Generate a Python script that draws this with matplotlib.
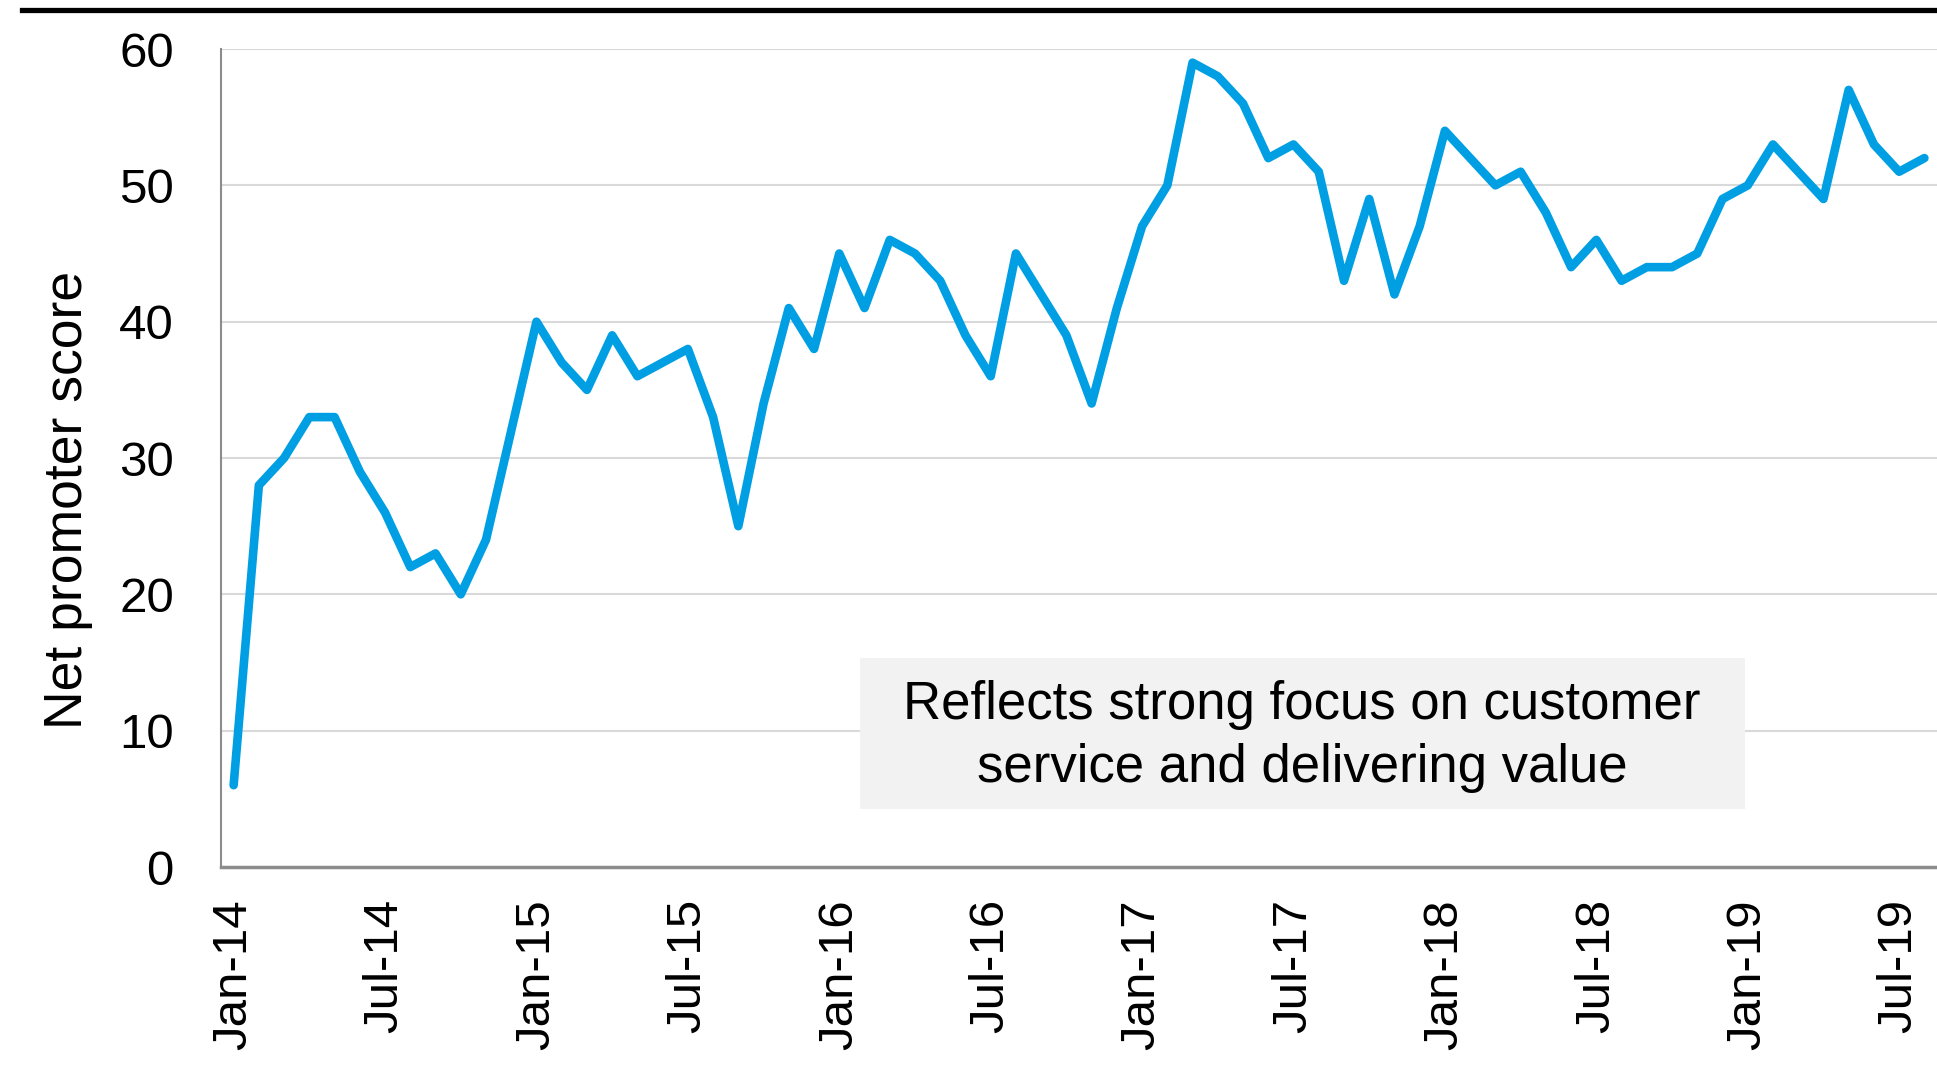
import numpy as np
import pandas as pd
from matplotlib import pyplot as plt
from matplotlib.lines import Line2D
from matplotlib.patches import Rectangle

plt.rcParams['font.family'] = ['Liberation Sans', 'DejaVu Sans']

# monthly net promoter score, Jan-14 .. Aug-19
months = pd.date_range('2014-01-01', '2019-08-01', freq='MS')
nps = [6, 28, 30, 33, 33, 29, 26, 22, 23, 20, 24, 32,
       40, 37, 35, 39, 36, 37, 38, 33, 25, 34, 41, 38,
       45, 41, 46, 45, 43, 39, 36, 45, 42, 39, 34, 41,
       47, 50, 59, 58, 56, 52, 53, 51, 43, 49, 42, 47,
       54, 52, 50, 51, 48, 44, 46, 43, 44, 44, 45, 49,
       50, 53, 51, 49, 57, 53, 51, 52]
y_ticks = [0, 10, 20, 30, 40, 50, 60]
note = 'Reflects strong focus on customer\nservice and delivering value'
y_label = 'Net promoter score'

df = pd.DataFrame({'month': months, 'nps': nps})
x = np.arange(len(df))
tick_idx = x[::6]
tick_labels = df['month'].dt.strftime('%b-%y').values[::6]

fig = plt.figure(figsize=(19.37, 10.68), dpi=100)
ax = fig.add_axes([0.1141, 0.1882, 0.8859, 0.7659])

ax.plot(x, df['nps'], color='#009FE3', linewidth=6.2, solid_joinstyle='round',
        solid_capstyle='round', zorder=3, clip_on=False)

ax.set_xlim(-0.5, len(df) - 0.5)
ax.set_ylim(0, 60)
ax.set_yticks(y_ticks)
ax.set_xticks(tick_idx)
ax.set_xticklabels(tick_labels, rotation=90)
ax.tick_params(axis='both', length=0, labelsize=35.5)
ax.tick_params(axis='x', pad=23)
ax.tick_params(axis='y', pad=34)
ax.grid(axis='y', color='#D9D9D9', linewidth=1.5)
ax.set_axisbelow(True)

for s in ['top', 'right']:
    ax.spines[s].set_visible(False)
ax.spines['left'].set_color('#8C8C8C')
ax.spines['left'].set_linewidth(1.5)
ax.spines['bottom'].set_color('#8C8C8C')
ax.spines['bottom'].set_linewidth(2.5)

# note box
ax.add_patch(Rectangle((0.3724, 0.0709), 0.5157, 0.1846, transform=ax.transAxes,
                       facecolor='#F2F2F2', edgecolor='none', zorder=2))
ax.text(0.630, 0.160, note, transform=ax.transAxes, ha='center', va='center',
        fontsize=38, linespacing=1.33, zorder=4)

fig.text(68 / 1937, 1 - 500 / 1068, y_label, rotation=90, ha='center', va='center',
         fontsize=38.5)

# heavy rule along the top
fig.add_artist(Line2D([22 / 1937, 1], [1 - 10 / 1068, 1 - 10 / 1068],
                      color='black', linewidth=3.8, transform=fig.transFigure))

fig.savefig('out.png', dpi=100, facecolor='white')
